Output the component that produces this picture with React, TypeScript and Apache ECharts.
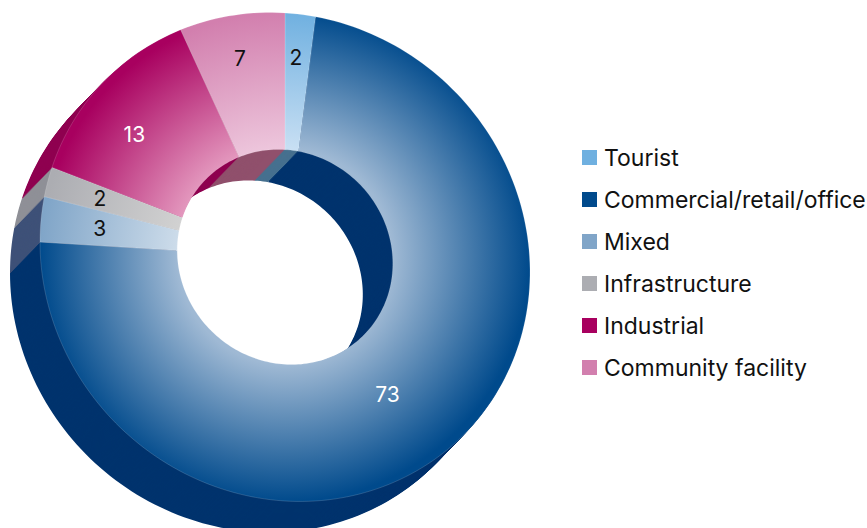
import React, { useEffect, useRef } from "react";
import * as echarts from "echarts";

const categories = ["Tourist", "Commercial/retail/office", "Mixed", "Infrastructure", "Industrial", "Community facility"];
const values = [2, 73, 3, 2, 13, 7];
const labelColors = ["#111", "#fff", "#111", "#111", "#fff", "#111"];
const labelAngleShift = [-0.5, 3.4, 0, 0, -4.4, -0.3];
const labelRadii = [0.82, 0.68, 0.76, 0.78, 0.77, 0.825];
const legendColors = ["#6fb0e0", "#004a8c", "#80a5c8", "#acadb2", "#a8005f", "#d27fae"];
const wallColors = ["#46708f", "#00336d", "#3e5178", "#8f9097", "#8f0050", "#90506c"];
const innerColors = ["#c8dff3", "#9fb9d4", "#cddcea", "#d2d2d2", "#e49abf", "#edc6dc"];

// Tilted (sheared) projection of the ring
const CX = 285, CY = 257, AX = 245, SHEAR = 15, AY = 244, HOLE = 0.44;
const DX = -30, DY = 31, STEPS = 31;
const FONT = "Inter";

const total = values.reduce((a, b) => a + b, 0);
const startOf = (i: number) => (values.slice(0, i).reduce((a, b) => a + b, 0) / total) * 360;
const endOf = (i: number) => startOf(i) + (values[i] / total) * 360;

function project(deg: number, k: number, cx: number, cy: number) {
  const t = (deg * Math.PI) / 180;
  const s = Math.sin(t), c = Math.cos(t);
  return [cx + AX * k * s, cy + k * (SHEAR * s - AY * c)];
}

function ringPoints(i: number, cx: number, cy: number) {
  const a = startOf(i), b = endOf(i);
  const n = Math.max(2, Math.ceil((b - a) / 1.5));
  const pts: number[][] = [];
  for (let j = 0; j <= n; j++) pts.push(project(a + ((b - a) * j) / n, 1, cx, cy));
  for (let j = n; j >= 0; j--) pts.push(project(a + ((b - a) * j) / n, HOLE, cx, cy));
  return pts;
}

function faceFill(i: number) {
  return new echarts.graphic.RadialGradient(CX, CY, AX, [
    { offset: 0, color: innerColors[i] },
    { offset: HOLE, color: innerColors[i] },
    { offset: 1, color: legendColors[i] },
  ], true);
}

export default function App() {
  const ref = useRef<HTMLDivElement>(null);
  useEffect(() => {
    const chart = echarts.init(ref.current!, undefined, { renderer: "svg" });
    const wallData: number[][] = [];
    for (let s = STEPS; s >= 1; s--) categories.forEach((_, i) => wallData.push([s, i]));
    const series: any[] = [
      {
        type: "custom", name: "walls", coordinateSystem: "none", silent: true, clip: false,
        data: wallData,
        renderItem: (_: any, api: any) => {
          const s = api.value(0), i = api.value(1);
          return {
            type: "polygon",
            shape: { points: ringPoints(i, CX + (DX * s) / STEPS, CY + (DY * s) / STEPS) },
            style: { fill: wallColors[i] },
          };
        },
      },
      ...categories.map((name, i) => ({
        type: "custom", name, coordinateSystem: "none", silent: true, clip: false,
        data: [[values[i]]],
        renderItem: (_: any, api: any) => {
          const mid = (startOf(i) + endOf(i)) / 2 + labelAngleShift[i];
          const [x, y] = project(mid, labelRadii[i], CX, CY);
          return {
            type: "group",
            children: [
              {
                type: "polygon",
                shape: { points: ringPoints(i, CX, CY) },
                style: { fill: faceFill(i), stroke: "rgba(255,255,255,0.3)", lineWidth: 0.5 },
              },
              {
                type: "text", x, y, z2: 10,
                style: {
                  text: String(api.value(0)), fill: labelColors[i], fontFamily: FONT, fontSize: 21,
                  align: "center", verticalAlign: "middle",
                },
              },
            ],
          };
        },
      })),
    ];
    chart.setOption({
      animation: false,
      backgroundColor: "#fff",
      legend: {
        orient: "vertical", left: 582, top: 146, selectedMode: false,
        itemWidth: 15, itemHeight: 15, itemGap: 19, padding: 0,
        textStyle: { fontFamily: FONT, fontSize: 23, color: "#111", padding: [0, 0, 0, 2] },
        data: categories.map((name, i) => ({ name, icon: "rect", itemStyle: { color: legendColors[i] } })),
      },
      series,
    });
    return () => chart.dispose();
  }, []);
  return <div ref={ref} style={{ position: "fixed", left: 0, top: 0, width: 867, height: 528 }} />;
}
